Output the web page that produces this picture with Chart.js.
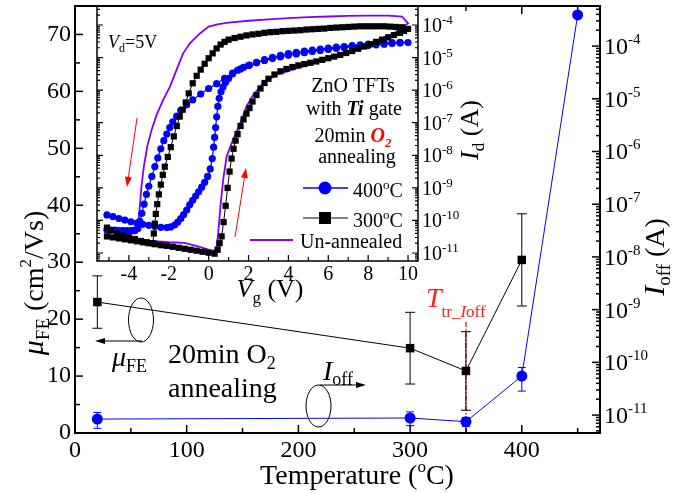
<!DOCTYPE html>
<html><head><meta charset="utf-8">
<script src="https://cdn.jsdelivr.net/npm/chart.js@4/dist/chart.umd.min.js"></script>
<style>
html,body{margin:0;padding:0;background:#fff;}
#wrap{position:relative;width:675px;height:493px;overflow:hidden;}
canvas{position:absolute;left:0;top:0;}
</style></head><body>
<div id="wrap">
<canvas id="main" width="675" height="493"></canvas>
<canvas id="inset" width="675" height="493"></canvas>
</div>
<script>
// ---------------- main chart data ----------------
const temps = [20, 300, 350, 400];
const mobility = [23.0, 14.9, 10.9, 30.4];
const mobilityErr = [4.6, 6.3, 6.9, 8.1];
const tempsOff = [20, 300, 350, 400, 450];
const ioff = [8.4e-12, 8.8e-12, 7.5e-12, 5.5e-11, 3.9e-4];
const ioffLow = [5.6e-12, 6.3e-12, 6.1e-12, 2.85e-11, null];
const ioffHigh = [1.12e-11, 1.15e-11, 9.0e-12, 8.0e-11, null];
const tempTickLabels = [0, 100, 200, 300, 400];
const mobilityTickLabels = [0, 10, 20, 30, 40, 50, 60, 70];
const ioffTickExponents = [-11, -10, -9, -8, -7, -6, -5, -4];

// ---------------- inset data: Vg (V) and log10 Id (A), forward sweep then reverse sweep ----------------
const vg300 = [-5.1,-4.8,-4.5,-4.2,-3.9,-3.6,-3.3,-3.0,-2.7,-2.4,-2.1,-1.8,-1.5,-1.2,-0.9,-0.6,-0.3,0.0,0.3,
  0.45,0.55,0.65,0.75,0.85,0.95,1.05,1.15,1.25,1.35,1.45,1.6,1.75,1.9,2.05,2.2,2.4,2.6,2.8,3.0,3.3,3.6,3.9,4.2,4.5,4.8,5.1,5.4,5.7,6.0,6.3,6.6,6.9,7.2,7.5,7.8,8.1,8.4,8.7,9.0,9.3,9.6,9.8,10.0,
  9.7,9.4,9.1,8.8,8.5,8.2,7.9,7.6,7.3,7.0,6.7,6.4,6.1,5.8,5.5,5.2,4.9,4.6,4.3,4.0,3.7,3.4,3.1,2.8,2.5,2.2,1.9,1.6,1.3,1.0,0.8,0.6,0.4,0.2,0.0,
  -0.2,-0.4,-0.6,-0.8,-1.0,-1.15,-1.3,-1.45,-1.6,-1.75,-1.9,-2.05,-2.2,-2.3,-2.4,-2.5,-2.58,-2.65,-2.7,-2.75,-2.8,-3.1,-3.4,-3.7,-4.0,-4.3,-4.6,-4.9,-5.1];
const logId300 = [-10.49,-10.52,-10.55,-10.58,-10.61,-10.64,-10.67,-10.70,-10.73,-10.76,-10.78,-10.81,-10.84,-10.87,-10.90,-10.93,-10.96,-10.99,-11.02,
  -10.9,-10.7,-10.49,-10.05,-9.55,-9.0,-8.5,-8.1,-7.8,-7.55,-7.35,-7.1,-6.9,-6.72,-6.55,-6.35,-6.15,-5.95,-5.78,-5.65,-5.52,-5.42,-5.35,-5.29,-5.24,-5.2,-5.16,-5.12,-5.07,-5.02,-4.97,-4.92,-4.86,-4.8,-4.73,-4.66,-4.59,-4.52,-4.45,-4.38,-4.31,-4.24,-4.18,-4.12,
  -4.07,-4.06,-4.05,-4.04,-4.04,-4.04,-4.04,-4.04,-4.05,-4.06,-4.07,-4.08,-4.09,-4.11,-4.12,-4.13,-4.14,-4.16,-4.17,-4.18,-4.19,-4.21,-4.22,-4.24,-4.27,-4.29,-4.32,-4.36,-4.40,-4.45,-4.52,-4.6,-4.72,-4.87,-5.02,
  -5.19,-5.37,-5.56,-5.79,-6.1,-6.38,-6.6,-6.81,-7.1,-7.42,-7.75,-8.05,-8.35,-8.6,-8.9,-9.2,-9.5,-9.8,-10.1,-10.4,-10.7,-10.67,-10.63,-10.57,-10.52,-10.46,-10.4,-10.3,-10.22];
const vg400 = [-5.1,-4.8,-4.5,-4.2,-3.9,-3.6,-3.3,-3.0,-2.7,-2.4,-2.1,-1.9,-1.7,-1.55,-1.4,-1.25,-1.1,-0.95,-0.8,-0.65,-0.5,-0.35,-0.2,-0.05,0.08,0.18,0.25,0.3,0.35,0.4,0.46,0.53,0.62,0.72,0.85,1.0,1.2,1.45,1.75,2.05,2.4,2.8,3.2,3.6,4.0,4.4,4.8,5.2,5.6,6.0,6.4,6.8,7.2,7.6,8.0,8.4,8.8,9.2,9.6,10.0,
  9.6,9.2,8.8,8.4,8.0,7.6,7.2,6.8,6.4,6.0,5.6,5.2,4.8,4.4,4.0,3.6,3.2,2.8,2.4,2.0,1.6,1.2,0.8,0.4,0.0,-0.4,-0.8,-1.1,-1.4,-1.6,-1.8,-1.95,-2.1,-2.25,-2.4,-2.55,-2.7,-2.85,-3.0,-3.12,-3.24,-3.35,-3.45,-3.55,-3.7,-3.9,-4.1,-4.3,-4.5,-4.7,-4.9,-5.1];
const logId400 = [-9.83,-9.88,-9.94,-9.99,-10.04,-10.08,-10.12,-10.15,-10.18,-10.21,-10.22,-10.2,-10.14,-10.05,-9.94,-9.82,-9.68,-9.52,-9.38,-9.25,-9.12,-8.98,-8.83,-8.65,-8.42,-8.1,-7.75,-7.45,-7.15,-6.82,-6.5,-6.25,-6.05,-5.9,-5.76,-5.64,-5.5,-5.39,-5.3,-5.23,-5.16,-5.09,-5.03,-4.98,-4.93,-4.89,-4.85,-4.81,-4.78,-4.75,-4.72,-4.69,-4.67,-4.65,-4.63,-4.61,-4.59,-4.57,-4.55,-4.54,
  -4.53,-4.54,-4.55,-4.57,-4.59,-4.61,-4.63,-4.66,-4.68,-4.71,-4.74,-4.77,-4.8,-4.84,-4.88,-4.93,-4.99,-5.06,-5.15,-5.24,-5.35,-5.48,-5.64,-5.8,-5.95,-6.12,-6.3,-6.45,-6.62,-6.8,-6.97,-7.15,-7.35,-7.55,-7.8,-8.08,-8.35,-8.65,-8.95,-9.2,-9.5,-9.78,-10.03,-10.25,-10.3,-10.31,-10.31,-10.31,-10.31,-10.3,-10.3,-10.29];
const vgUn = [-5.1,-4.0,-3.0,-2.0,-1.2,-0.5,0.2,0.38,0.48,0.59,0.73,0.9,1.15,1.4,1.65,1.9,2.23,2.73,3.4,4.4,5.5,6.5,7.5,8.5,9.3,10.0,
  9.7,9.0,8.0,7.0,6.0,5.0,4.0,3.0,2.0,1.0,0.5,0.0,-0.44,-0.94,-1.28,-1.61,-1.94,-2.28,-2.61,-2.86,-3.08,-3.25,-3.37,-3.45,-3.53,-3.62,-4.5,-5.1];
const logIdUn = [-10.45,-10.55,-10.62,-10.67,-10.69,-10.8,-10.93,-10.9,-10.39,-9.57,-8.75,-8.04,-7.63,-7.27,-6.91,-6.5,-6.15,-5.79,-5.53,-5.33,-5.12,-4.93,-4.7,-4.45,-4.25,-3.95,
  -3.74,-3.71,-3.71,-3.72,-3.74,-3.76,-3.79,-3.83,-3.87,-3.93,-3.97,-4.05,-4.26,-4.56,-4.87,-5.38,-5.89,-6.3,-6.76,-7.22,-7.73,-8.35,-8.96,-9.57,-10.08,-10.39,-10.45,-10.5];
const vgTickLabels = [-4, -2, 0, 2, 4, 6, 8, 10];
const idTickExponents = [-11, -10, -9, -8, -7, -6, -5, -4];

// ---------------- helpers ----------------
const FONT = "'Liberation Serif','Times New Roman',serif";
function fnt(s, it, b){ return (it?'italic ':'') + (b?'bold ':'') + s + 'px ' + FONT; }
function rich(ctx, parts, x, y, align, rot){
  ctx.save(); ctx.translate(x, y); if (rot) ctx.rotate(rot);
  ctx.textAlign = 'left'; ctx.textBaseline = 'alphabetic';
  let w = 0;
  parts.forEach(p => { ctx.font = fnt(p.s, p.i, p.b); p.w = ctx.measureText(p.t).width; w += p.w; });
  let cx = align === 'center' ? -w / 2 : (align === 'right' ? -w : 0);
  parts.forEach(p => { ctx.font = fnt(p.s, p.i, p.b); ctx.fillStyle = p.c || '#000'; ctx.fillText(p.t, cx, p.dy || 0); cx += p.w; });
  ctx.restore();
}
function arrow(ctx, x1, y1, x2, y2, color, hl, hw){
  ctx.save(); ctx.strokeStyle = color; ctx.fillStyle = color; ctx.lineWidth = 1;
  const a = Math.atan2(y2 - y1, x2 - x1);
  ctx.beginPath(); ctx.moveTo(x1, y1); ctx.lineTo(x2 - Math.cos(a) * hl * 0.8, y2 - Math.sin(a) * hl * 0.8); ctx.stroke();
  ctx.beginPath(); ctx.moveTo(x2, y2);
  ctx.lineTo(x2 - Math.cos(a) * hl - Math.sin(a) * hw, y2 - Math.sin(a) * hl + Math.cos(a) * hw);
  ctx.lineTo(x2 - Math.cos(a) * hl + Math.sin(a) * hw, y2 - Math.sin(a) * hl - Math.cos(a) * hw);
  ctx.closePath(); ctx.fill(); ctx.restore();
}
function logVals(e0, e1){ const out = []; for (let e = e0; e <= e1; e++) for (let m = 1; m <= 9; m++) out.push({v: m * Math.pow(10, e), major: m === 1}); return out; }
function range(a, b, st){ const out = []; for (let v = a; v <= b + 1e-9; v += st) out.push(Math.round(v * 1000) / 1000); return out; }

// ---------------- main chart ----------------
const mainPlugin = {
  id: 'mainDeco',
  beforeDatasetsDraw(chart){
    const ctx = chart.ctx, xs = chart.scales.x, ys = chart.scales.y, yl = chart.scales.y2, a = chart.chartArea;
    ctx.save(); ctx.strokeStyle = '#ff2a2a'; ctx.lineWidth = 1.5; ctx.setLineDash([5, 2, 1.5, 2]);
    const xt = xs.getPixelForValue(tempsOff[2]);
    ctx.beginPath(); ctx.moveTo(xt, 322); ctx.lineTo(xt, a.bottom); ctx.stroke(); ctx.restore();
    ctx.save(); ctx.lineWidth = 1;
    ctx.strokeStyle = '#000';
    temps.forEach((t, i) => {
      const x = xs.getPixelForValue(t), y1 = ys.getPixelForValue(mobility[i] - mobilityErr[i]), y2 = ys.getPixelForValue(mobility[i] + mobilityErr[i]);
      ctx.beginPath(); ctx.moveTo(x, y1); ctx.lineTo(x, y2); ctx.moveTo(x - 5, y1); ctx.lineTo(x + 5, y1); ctx.moveTo(x - 5, y2); ctx.lineTo(x + 5, y2); ctx.stroke();
    });
    ctx.strokeStyle = '#0000ff';
    tempsOff.forEach((t, i) => {
      if (ioffLow[i] == null) return;
      const x = xs.getPixelForValue(t), y1 = yl.getPixelForValue(ioffLow[i]), y2 = yl.getPixelForValue(ioffHigh[i]);
      ctx.beginPath(); ctx.moveTo(x, y1); ctx.lineTo(x, y2); ctx.moveTo(x - 4, y1); ctx.lineTo(x + 4, y1); ctx.moveTo(x - 4, y2); ctx.lineTo(x + 4, y2); ctx.stroke();
    });
    ctx.restore();
  },
  afterDraw(chart){
    const ctx = chart.ctx, xs = chart.scales.x, ys = chart.scales.y, yl = chart.scales.y2, a = chart.chartArea;
    ctx.save();
    ctx.strokeStyle = '#000'; ctx.lineWidth = 1.5;
    range(0, 450, 50).forEach(v => {
      const x = xs.getPixelForValue(v), L = v % 100 === 0 ? 8 : 5;
      ctx.beginPath(); ctx.moveTo(x, a.bottom); ctx.lineTo(x, a.bottom - L);
      if (x > 420) { ctx.moveTo(x, a.top); ctx.lineTo(x, a.top + L); }
      ctx.stroke();
    });
    range(0, 75, 5).forEach(v => {
      const y = ys.getPixelForValue(v), L = v % 10 === 0 ? 8 : 5;
      ctx.beginPath(); ctx.moveTo(a.left, y); ctx.lineTo(a.left + L, y); ctx.stroke();
    });
    logVals(-12, -4).forEach(o => {
      if (o.v < yl.min || o.v > yl.max) return;
      const y = yl.getPixelForValue(o.v), L = o.major ? 8 : 4;
      ctx.beginPath(); ctx.moveTo(a.right, y); ctx.lineTo(a.right - L, y); ctx.stroke();
    });
    ctx.lineWidth = 2; ctx.strokeRect(a.left, a.top, a.right - a.left, a.bottom - a.top);
    ctx.restore();
    ioffTickExponents.forEach(e => {
      const y = yl.getPixelForValue(Math.pow(10, e));
      rich(ctx, [{t:'10', s:24}, {t:String(e), s:15, dy:-10}], a.right + 4, y + 8, 'left');
    });
    rich(ctx, [{t:'Temperature (', s:28}, {t:'o', s:17, dy:-12}, {t:'C)', s:28}], 357, 484, 'center');
    rich(ctx, [{t:'\u03BC', s:30, i:true}, {t:'FE', s:19, dy:6}, {t:' (cm', s:28}, {t:'2', s:17, dy:-12}, {t:'/Vs)', s:28}], 43, 283, 'center', -Math.PI / 2);
    rich(ctx, [{t:'I', s:30, i:true}, {t:'off', s:19, dy:6}, {t:' (A)', s:28}], 664, 257, 'center', -Math.PI / 2);
    rich(ctx, [{t:'20min O', s:28}, {t:'2', s:18, dy:6}], 168, 363, 'left');
    rich(ctx, [{t:'annealing', s:28}], 168, 397, 'left');
    rich(ctx, [{t:'\u03BC', s:28, i:true}, {t:'FE', s:18, dy:6}], 112, 366, 'left');
    rich(ctx, [{t:'I', s:28, i:true}, {t:'off', s:18, dy:5}], 323, 380, 'left');
    rich(ctx, [{t:'T', s:28, i:true, c:'#ff2020'}, {t:'tr_', s:17, dy:10, c:'#ff2020'}, {t:'I', s:17, i:true, dy:10, c:'#ff2020'}, {t:'off', s:17, dy:10, c:'#ff2020'}], 426, 307, 'left');
    ctx.save(); ctx.strokeStyle = '#000'; ctx.lineWidth = 1;
    ctx.beginPath(); ctx.ellipse(141, 320, 12.5, 22, 0, 0, Math.PI * 2); ctx.stroke();
    ctx.beginPath(); ctx.ellipse(318.5, 406, 12.5, 21, 0, 0, Math.PI * 2); ctx.stroke();
    ctx.restore();
    arrow(ctx, 142, 341, 95, 341, '#000', 10, 3);
    arrow(ctx, 320, 385, 366, 385, '#000', 10, 3);
  }
};

new Chart(document.getElementById('main'), {
  type: 'scatter',
  data: { datasets: [
    { data: temps.map((t, i) => ({x: t, y: mobility[i]})), yAxisID: 'y', showLine: true, borderColor: '#000', borderWidth: 1,
      pointStyle: 'rect', pointRadius: 6, pointBackgroundColor: '#000', pointBorderColor: '#000', pointBorderWidth: 0 },
    { data: tempsOff.map((t, i) => ({x: t, y: ioff[i]})), yAxisID: 'y2', showLine: true, borderColor: '#0000ff', borderWidth: 1,
      pointStyle: 'circle', pointRadius: 5.5, pointBackgroundColor: '#0000ff', pointBorderColor: '#0000ff', pointBorderWidth: 0 }
  ]},
  options: {
    responsive: false, animation: false, devicePixelRatio: 1,
    layout: { padding: { top: 6, left: 0, right: 0, bottom: 0 }, autoPadding: false },
    plugins: { legend: { display: false }, tooltip: { enabled: false } },
    scales: {
      x: { type: 'linear', min: 0, max: 470, grid: { display: false, drawTicks: false }, border: { display: false },
        ticks: { stepSize: 50, includeBounds: false, autoSkip: false, maxRotation: 0, padding: 3, color: '#000', font: { family: FONT, size: 24 },
          callback: v => tempTickLabels.includes(v) ? String(v) : '' },
        afterFit: s => { s.height = 60; s.paddingLeft = 0; s.paddingRight = 0; } },
      y: { type: 'linear', position: 'left', min: 0, max: 75, grid: { display: false, drawTicks: false }, border: { display: false },
        ticks: { stepSize: 5, includeBounds: false, autoSkip: false, padding: 4, color: '#000', font: { family: FONT, size: 24 },
          callback: v => mobilityTickLabels.includes(v) ? String(v) : '' },
        afterFit: s => { s.width = 75; s.paddingTop = 0; s.paddingBottom = 0; } },
      y2: { type: 'logarithmic', position: 'right', min: Math.pow(10, -11.34), max: Math.pow(10, -3.24), grid: { display: false, drawTicks: false }, border: { display: false },
        ticks: { display: false },
        afterFit: s => { s.width = 75; s.paddingTop = 0; s.paddingBottom = 0; } }
    }
  },
  plugins: [mainPlugin]
});

// ---------------- inset chart ----------------
const insetPlugin = {
  id: 'insetDeco',
  afterDraw(chart){
    const ctx = chart.ctx, xs = chart.scales.x, ys = chart.scales.y, a = chart.chartArea;
    ctx.save(); ctx.strokeStyle = '#000'; ctx.lineWidth = 1.2;
    range(-5, 10, 1).forEach(v => {
      const x = xs.getPixelForValue(v), L = vgTickLabels.includes(v) ? 6 : 4;
      ctx.beginPath(); ctx.moveTo(x, a.bottom); ctx.lineTo(x, a.bottom - L); ctx.stroke();
    });
    logVals(-12, -4).forEach(o => {
      if (o.v < ys.min || o.v > ys.max) return;
      const y = ys.getPixelForValue(o.v), L = o.major ? 6 : 3;
      ctx.beginPath(); ctx.moveTo(a.right, y); ctx.lineTo(a.right - L, y); ctx.moveTo(a.left, y); ctx.lineTo(a.left + L, y); ctx.stroke();
    });
    ctx.lineWidth = 1.5;
    ctx.beginPath(); ctx.moveTo(a.left, a.top); ctx.lineTo(a.left, a.bottom); ctx.lineTo(a.right, a.bottom); ctx.lineTo(a.right, a.top); ctx.stroke();
    ctx.restore();
    idTickExponents.forEach(e => {
      const y = ys.getPixelForValue(Math.pow(10, e));
      rich(ctx, [{t:'10', s:20}, {t:String(e), s:13, dy:-8}], a.right + 4, y + 7, 'left');
    });
    rich(ctx, [{t:'V', s:26, i:true}, {t:'g', s:17, dy:6}, {t:' (V)', s:26}], 270, 297, 'center');
    rich(ctx, [{t:'I', s:26, i:true}, {t:'d', s:17, dy:6}, {t:' (A)', s:26}], 478, 130, 'center', -Math.PI / 2);
    rich(ctx, [{t:'V', s:18, i:true}, {t:'d', s:12, dy:4}, {t:'=5V', s:18}], 108, 48, 'left');
    rich(ctx, [{t:'ZnO TFTs', s:20}], 353, 92, 'center');
    rich(ctx, [{t:'with ', s:20}, {t:'Ti', s:20, i:true, b:true}, {t:' gate', s:20}], 354, 115, 'center');
    rich(ctx, [{t:'20min ', s:20}, {t:'O', s:20, i:true, b:true, c:'#ff0000'}, {t:'2', s:13, i:true, b:true, dy:5, c:'#ff0000'}], 353, 142, 'center');
    rich(ctx, [{t:'annealing', s:20}], 357, 163, 'center');
    ctx.save();
    ctx.lineWidth = 1.5; ctx.strokeStyle = '#0000ff'; ctx.fillStyle = '#0000ff';
    ctx.beginPath(); ctx.moveTo(303, 188); ctx.lineTo(348, 188); ctx.stroke();
    ctx.beginPath(); ctx.arc(325, 188, 6.5, 0, Math.PI * 2); ctx.fill();
    ctx.lineWidth = 1; ctx.strokeStyle = '#000'; ctx.fillStyle = '#000';
    ctx.beginPath(); ctx.moveTo(303, 218); ctx.lineTo(348, 218); ctx.stroke();
    ctx.fillRect(319, 212, 12, 12);
    ctx.lineWidth = 2; ctx.strokeStyle = '#8000ff';
    ctx.beginPath(); ctx.moveTo(250, 240); ctx.lineTo(293, 240); ctx.stroke();
    ctx.restore();
    rich(ctx, [{t:'400', s:20}, {t:'o', s:13, dy:-8}, {t:'C', s:20}], 353, 197, 'left');
    rich(ctx, [{t:'300', s:20}, {t:'o', s:13, dy:-8}, {t:'C', s:20}], 353, 227, 'left');
    rich(ctx, [{t:'Un-annealed', s:20}], 300, 248, 'left');
    arrow(ctx, 137, 118, 127, 187, '#ff0000', 10, 3.5);
    arrow(ctx, 235, 237, 246, 168, '#ff0000', 10, 3.5);
  }
};

new Chart(document.getElementById('inset'), {
  type: 'scatter',
  data: { datasets: [
    { data: vgUn.map((v, i) => ({x: v, y: Math.pow(10, logIdUn[i])})), showLine: true, borderColor: '#8000ff', borderWidth: 1.8, pointRadius: 0, order: 3 },
    { data: vg400.map((v, i) => ({x: v, y: Math.pow(10, logId400[i])})), showLine: true, borderColor: '#0000ff', borderWidth: 1.2,
      pointStyle: 'circle', pointRadius: 3.6, pointBackgroundColor: '#0000ff', pointBorderWidth: 0, order: 2 },
    { data: vg300.map((v, i) => ({x: v, y: Math.pow(10, logId300[i])})), showLine: true, borderColor: '#000', borderWidth: 1,
      pointStyle: 'rect', pointRadius: 4.4, pointBackgroundColor: '#000', pointBorderWidth: 0, order: 1 }
  ]},
  options: {
    responsive: false, animation: false, devicePixelRatio: 1,
    layout: { padding: { top: 6, left: 97, right: 207, bottom: 202 }, autoPadding: false },
    plugins: { legend: { display: false }, tooltip: { enabled: false } },
    scales: {
      x: { type: 'linear', min: -5.6, max: 10.5, grid: { display: false, drawTicks: false }, border: { display: false },
        ticks: { stepSize: 1, includeBounds: false, autoSkip: false, maxRotation: 0, padding: 2, color: '#000', font: { family: FONT, size: 20 },
          callback: v => vgTickLabels.includes(v) ? String(v) : '' },
        afterFit: s => { s.height = 30; s.paddingLeft = 0; s.paddingRight = 0; } },
      y: { type: 'logarithmic', position: 'right', min: Math.pow(10, -11.245), max: Math.pow(10, -3.417), grid: { display: false, drawTicks: false }, border: { display: false },
        ticks: { display: false },
        afterFit: s => { s.width = 50; s.paddingTop = 0; s.paddingBottom = 0; } }
    }
  },
  plugins: [insetPlugin]
});
</script>
</body></html>
